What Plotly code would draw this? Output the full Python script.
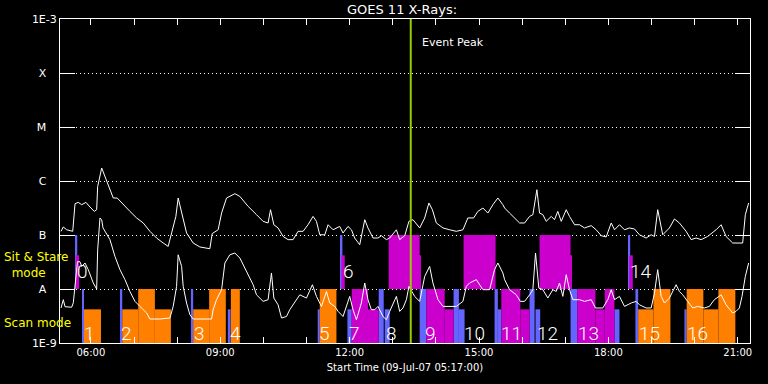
import datetime as dt
import math
import plotly.graph_objects as go

# ---------------- data ----------------
START = dt.datetime(2007, 7, 9, 5, 17)
END = START + dt.timedelta(hours=16)
EVENT_PEAK = dt.datetime(2007, 7, 9, 13, 25)

# GOES 11 long channel (1-8 A), minutes after start / flux W m^-2
long_min = [1.4, 4.6, 9.3, 17.7, 20.9, 25.4, 30.2, 36.1, 41.7, 47.7, 51, 52.4, 58, 62.6, 69.5, 74.1, 79.6, 88, 97.3, 106.6,
            115.8, 125.1, 134.4, 143.6, 150.5, 155.3, 161.2, 164.4, 169.2, 176.1, 185.3, 194.6, 208.5, 211.7, 220, 224.8, 231.7, 243.3, 250.2, 261.7,
            273.4, 282.6, 289.5, 292.9, 297.5, 303.4, 310.4, 317.3, 324.3, 331.2, 338.2, 345.1, 352.1, 356.8, 361.4, 368.4, 373, 379.9, 389.2, 393.8,
            400.7, 405.5, 410, 417, 424, 428.5, 435.5, 442.4, 447.2, 454.1, 458.7, 468, 472.6, 479.6, 485.5, 491.1, 500.4, 507.4, 513.3, 518.1,
            523.6, 532.8, 542.1, 551.4, 560.6, 567.5, 575.5, 581.4, 588.4, 595.3, 602.3, 609.2, 616.2, 618.6, 625.5, 632.5, 639.4, 646.4, 653.3, 657.9,
            663.5, 667.2, 671.8, 676.5, 683.5, 688, 692.6, 697.4, 704.3, 708.9, 715.9, 722.8, 729.8, 739.1, 746, 753, 759.9, 766.9, 771.5, 778.4,
            785.4, 792.3, 799.3, 806.2, 815.5, 822.5, 827.1, 831.6, 838.6, 847.9, 854.9, 861.8, 871.1, 878.1, 885, 892, 901.1, 912.8, 919.8, 926.7,
            935.9, 949.8, 953.5, 958.1]
long_flux = [1.17e-7, 1.41e-7, 1.25e-7, 1.17e-7, 3.80e-7, 4.02e-7, 3.64e-7, 4.02e-7, 3.30e-7, 2.74e-7,
             2.94e-7, 7.94e-7, 1.74e-6, 1.22e-6, 6.9e-7, 4.84e-7, 4.84e-7, 3.64e-7, 2.74e-7, 2.07e-7,
             1.67e-7, 1.17e-7, 8.8e-8, 7.1e-8, 6.15e-8, 1.09e-7, 2.21e-7, 4.84e-7, 2.55e-7, 1.09e-7,
             7.1e-8, 6.0e-8, 5.57e-8, 1.06e-7, 1.25e-7, 2.55e-7, 4.84e-7, 5.82e-7, 5.19e-7, 3.39e-7,
             2.38e-7, 1.79e-7, 1.67e-7, 2.94e-7, 1.55e-7, 1.35e-7, 9.4e-8, 8.2e-8, 8.2e-8, 1.17e-7,
             1.17e-7, 1.55e-7, 2.21e-7, 1.79e-7, 1.01e-7, 1.01e-7, 1.55e-7, 1.25e-7, 1.44e-7, 1.09e-7,
             1.44e-7, 1.25e-7, 8.8e-8, 6.6e-8, 1.92e-7, 1.35e-7, 8.8e-8, 8.8e-8, 9.7e-8, 8.2e-8,
             8.8e-8, 1.25e-7, 8.2e-8, 9.7e-8, 1.79e-7, 1.92e-7, 1.35e-7, 2.07e-7, 3.92e-7, 2.94e-7,
             1.67e-7, 1.35e-7, 1.25e-7, 1.17e-7, 1.25e-7, 2.07e-7, 2.07e-7, 2.74e-7, 3.16e-7, 2.55e-7,
             3.64e-7, 4.84e-7, 3.64e-7, 3.16e-7, 2.55e-7, 2.07e-7, 1.67e-7, 1.67e-7, 2.21e-7, 2.38e-7,
             6.9e-7, 2.55e-7, 2.38e-7, 1.79e-7, 2.21e-7, 1.92e-7, 2.74e-7, 1.79e-7, 2.94e-7, 2.21e-7,
             1.55e-7, 1.55e-7, 1.35e-7, 1.49e-7, 1.25e-7, 9.7e-8, 9.2e-8, 1.67e-7, 1.25e-7, 1.55e-7,
             1.25e-7, 1.35e-7, 1.29e-7, 1.01e-7, 8.8e-8, 1.01e-7, 9.4e-8, 2.94e-7, 1.01e-7, 1.35e-7,
             1.98e-7, 1.67e-7, 1.17e-7, 8.2e-8, 8.8e-8, 8.2e-8, 9.4e-8, 1.25e-7, 1.55e-7, 9.4e-8,
             7.1e-8, 7.1e-8, 2.38e-7, 3.92e-7]

# GOES 11 short channel (0.5-4 A)
short_min = [1.4, 4.6, 7, 16.3, 18.5, 20.2, 24.3, 27.8, 30.2, 34.8, 39.3, 46.3, 51, 52.4, 55.6, 58, 59.8, 69.5, 76.5, 83.4,
             90.4, 97.3, 104.3, 111.2, 120.5, 125.1, 139, 152.9, 157.5, 162.2, 164.4, 169.2, 171.4, 176.1, 180.7, 185.3, 210.9, 213.1, 217.8, 224.8,
             229.4, 236.3, 243.3, 250.2, 259.5, 268.7, 273.4, 282.6, 289.5, 294.2, 297.5, 303.4, 308.2, 315.1, 319.7, 324.3, 333.6, 342.9, 351.2, 356.8,
             363.8, 370.7, 375.3, 382.3, 386.9, 393.8, 400.7, 403.1, 407.7, 412.4, 419.3, 424, 428.5, 433.2, 437.9, 442.4, 449.4, 454.1, 458.7, 463.3,
             468, 472.6, 477.2, 481.9, 485.5, 493.4, 500.4, 507.4, 514.3, 518.9, 525.9, 532.8, 551.4, 560.6, 565.3, 569.9, 579.2, 588.4, 597.7, 604.6,
             609.2, 616.2, 618.6, 625.5, 634.8, 640.4, 646.4, 653.3, 657.9, 661.6, 666.2, 671.8, 678.7, 685.7, 690.4, 695, 699.6, 704.3, 708.9, 713.5,
             722.8, 729.8, 739.1, 745, 755.2, 762.1, 766.9, 771.5, 778.4, 785.4, 794.6, 801.6, 806.2, 815.5, 822.5, 827.1, 831.6, 836.4, 841, 847.9,
             852.5, 857.2, 861.8, 866.4, 873.3, 880.3, 887.2, 896.5, 903.5, 910.4, 919.8, 926.7, 935.9, 940.6, 945.2, 948.9, 953.5, 958.1]
short_flux = [4.45e-9, 6.34e-9, 4.7e-9, 4.6e-9, 5.57e-9, 1.0e-8, 3.2e-8, 3.2e-8, 2.62e-8, 3.03e-8,
              2.28e-8, 1.29e-8, 1.0e-8, 5.3e-8, 2.07e-7, 1.92e-7, 1.36e-7, 8.2e-8, 4.0e-8, 2.28e-8,
              1.49e-8, 9.0e-9, 5.9e-9, 4.76e-9, 3.6e-9, 2.78e-9, 2.78e-9, 2.9e-9, 4.76e-9, 1.12e-8,
              4.3e-8, 2.62e-8, 1.12e-8, 5.5e-9, 3.34e-9, 2.78e-9, 2.78e-9, 4.14e-9, 6.34e-9, 9.7e-9,
              3.03e-8, 4.3e-8, 4.64e-8, 3.75e-8, 2.12e-8, 1.2e-8, 7.8e-9, 5.9e-9, 6.34e-9, 1.98e-8,
              6.8e-9, 5.1e-9, 2.9e-9, 3.1e-9, 4.14e-9, 5.1e-9, 7.8e-9, 6.8e-9, 1.2e-8, 7.3e-9,
              4.76e-9, 9.0e-9, 5.5e-9, 4.76e-9, 3.85e-9, 3.1e-9, 6.34e-9, 7.3e-9, 4.14e-9, 2.7e-9,
              5.5e-9, 1.29e-8, 6.34e-9, 4.14e-9, 4.14e-9, 4.76e-9, 3.1e-9, 2.7e-9, 3.85e-9, 5.5e-9,
              7.3e-9, 3.85e-9, 4.45e-9, 6.34e-9, 1.12e-8, 7.3e-9, 5.9e-9, 1.71e-8, 2.62e-8, 1.29e-8,
              6.34e-9, 4.76e-9, 4.76e-9, 5.9e-9, 1.12e-8, 1.29e-8, 1.49e-8, 9.7e-9, 9.7e-9, 2.28e-8,
              3.03e-8, 1.98e-8, 1.49e-8, 9.7e-9, 7.8e-9, 5.9e-9, 5.9e-9, 7.8e-9, 9.7e-9, 4.64e-8,
              1.04e-8, 9.7e-9, 6.8e-9, 9.7e-9, 9.0e-9, 1.29e-8, 7.3e-9, 1.84e-8, 9.7e-9, 6.34e-9,
              6.34e-9, 5.9e-9, 6.34e-9, 4.45e-9, 4.45e-9, 6.34e-9, 9.7e-9, 6.34e-9, 7.3e-9, 4.76e-9,
              5.5e-9, 5.9e-9, 5.1e-9, 4.45e-9, 4.45e-9, 8.4e-9, 2.28e-8, 7.3e-9, 5.5e-9, 6.8e-9,
              9.0e-9, 1.2e-8, 9.0e-9, 7.8e-9, 5.9e-9, 4.45e-9, 4.76e-9, 4.45e-9, 4.76e-9, 6.34e-9,
              7.8e-9, 5.1e-9, 3.6e-9, 3.85e-9, 4.45e-9, 7.3e-9, 1.71e-8, 3.03e-8]

# GOES class levels and axis labels
goes_levels = [1e-9, 1e-8, 1e-7, 1e-6, 1e-5, 1e-4, 1e-3]
goes_labels = ["1E-9", "A", "B", "C", "M", "X", "1E-3"]

# observation timeline blocks: minutes after start, flux extent, kind
bar_start = [21.3, 30.6, 83.4, 182.1, 233.5, 358.6, 390.2, 399.9, 443.4, 451.8, 500.4, 547.6, 555.0, 604.6, 609.2,
             653.3, 661.6, 710.3, 771.4, 790.9, 800.6, 868.8,
             33.4, 86.6, 108.8, 132.0, 185.3, 207.5, 237.7, 361.4, 804.4, 825.7, 871.9, 895.1, 916.0,
             21.8, 391.5, 405.9, 428.5, 457.3, 500.4, 509.7, 535.2, 561.5, 614.0, 640.4, 667.2, 710.3, 719.6, 745.0,
             757.9, 792.0]
bar_end = [24.0, 33.4, 86.6, 185.3, 237.3, 361.4, 392.9, 405.9, 450.4, 458.7, 509.7, 555.0, 562.9, 609.2, 614.0,
           660.3, 668.1, 719.6, 778.4, 793.3, 804.4, 871.9,
           57.0, 108.8, 132.0, 154.3, 207.5, 230.7, 250.2, 384.6, 825.7, 849.3, 895.1, 916.0, 939.6,
           26.5, 396.2, 428.5, 443.4, 500.4, 501.8, 535.2, 547.6, 606.0, 640.4, 653.3, 710.3, 711.7, 745.0, 757.9,
           771.4, 796.9]
bar_low = [1e-8, 1e-9, 1e-9, 1e-9, 1e-9, 1e-9, 1e-8, 1e-9, 1e-9, 1e-9, 1e-9, 1e-9, 1e-9, 1e-9, 1e-9,
           1e-9, 1e-9, 1e-9, 1e-9, 1e-8, 1e-9, 1e-9,
           1e-9, 1e-9, 1e-9, 1e-9, 1e-9, 1e-9, 1e-9, 1e-9, 1e-9, 1e-9, 1e-9, 1e-9, 1e-9,
           1e-8, 1e-8, 1e-9, 1e-9, 1e-8, 1e-8, 1e-9, 1e-9, 1e-8, 1e-9, 1e-9, 1e-8, 1e-8, 1e-9, 1e-9,
           1e-9, 1e-8]
bar_high = [1e-7, 1e-8, 1e-8, 1e-8, 4.2e-9, 4.2e-9, 1e-7, 4.2e-9, 1e-8, 4.2e-9, 1e-8, 1e-8, 4.2e-9, 1e-8, 4.2e-9,
            1e-8, 4.2e-9, 1e-8, 4.2e-9, 1e-7, 1e-8, 4.2e-9,
            4.2e-9, 4.2e-9, 1e-8, 4.2e-9, 4.2e-9, 1e-8, 1e-8, 1e-8, 4.2e-9, 1e-8, 1e-8, 4.2e-9, 1e-8,
            4.2e-8, 4.2e-8, 1e-8, 4.2e-9, 1e-7, 4.2e-8, 1e-8, 4.2e-9, 1e-7, 1e-8, 4.2e-9, 1e-7, 4.2e-8, 1e-8, 4.2e-9,
            1e-8, 4.2e-8]
bar_kind = ["pointing"] * 22 + ["scan"] * 13 + ["sitstare"] * 17

# study numbers with their start (minutes) and mode
study_num = list(range(17))
study_start = [22, 32, 84, 184.5, 235, 359, 392, 400.7, 451.8, 506, 560.6, 611.6, 662.6, 719, 792.3, 803.8, 871]
study_mode = ["stare", "scan", "scan", "scan", "scan", "scan", "stare", "scan", "scan", "scan", "scan", "scan",
              "scan", "scan", "stare", "scan", "scan"]
label_level = {"scan": 1.52e-9, "stare": 2.1e-8}

# ---------------- figure ----------------
def t(m):
    return START + dt.timedelta(minutes=m)

kind_color = {"pointing": "#6464ff", "scan": "#ff8000", "sitstare": "#cc00cc"}

fig = go.Figure()
for kind in ["pointing", "scan", "sitstare"]:
    idx = [i for i, k in enumerate(bar_kind) if k == kind]
    fig.add_trace(go.Bar(
        x=[t((bar_start[i] + bar_end[i]) / 2) for i in idx],
        width=[(bar_end[i] - bar_start[i]) * 60000 for i in idx],
        base=[bar_low[i] for i in idx],
        y=[bar_high[i] - bar_low[i] for i in idx],
        marker=dict(color=kind_color[kind], line=dict(width=0)),
        showlegend=False, hoverinfo="skip",
    ))

fig.add_trace(go.Scatter(x=[t(m) for m in long_min], y=long_flux, mode="lines",
                         line=dict(color="white", width=1), showlegend=False))
fig.add_trace(go.Scatter(x=[t(m) for m in short_min], y=short_flux, mode="lines",
                         line=dict(color="white", width=1), showlegend=False))

fig.add_shape(type="line", xref="x", yref="paper", x0=EVENT_PEAK, x1=EVENT_PEAK, y0=0, y1=1,
              line=dict(color="#99cc00", width=2), layer="above")
fig.add_annotation(x=EVENT_PEAK, xref="x", y=0.928, yref="paper", text="Event Peak", showarrow=False,
                   xanchor="left", yanchor="middle", xshift=9,
                   font=dict(family="DejaVu Sans", size=11, color="white"))

for n, s, md in zip(study_num, study_start, study_mode):
    fig.add_annotation(x=t(s), xref="x", y=math.log10(label_level[md]), yref="y", text=str(n),
                       showarrow=False, xanchor="left", yanchor="middle", xshift=-1,
                       font=dict(family="Roboto", weight=300, size=19, color="white"))

fig.add_annotation(x=-0.084, xref="paper", y=0.2417, yref="paper",
                   text="Sit & Stare<br>\u00a0\u00a0mode", showarrow=False, xanchor="left", yanchor="middle",
                   align="left", font=dict(family="DejaVu Sans", size=12, color="#ffff00"))
fig.add_annotation(x=-0.084, xref="paper", y=0.0627, yref="paper",
                   text="Scan mode", showarrow=False, xanchor="left", yanchor="middle",
                   align="left", font=dict(family="DejaVu Sans", size=12, color="#ffff00"))

ticktext = [lab if lab.startswith("1E") else lab + "\u00a0" * 3 for lab in goes_labels]

fig.update_layout(
    template="none",
    width=768, height=384,
    margin=dict(l=60, r=18, t=19, b=41, autoexpand=False),
    paper_bgcolor="black", plot_bgcolor="black",
    barmode="overlay",
    title=dict(text="GOES 11 X-Rays:", x=402 / 768, xanchor="center", y=1 - 9.5 / 384, yanchor="middle",
               font=dict(family="DejaVu Sans", size=13, color="white")),
    font=dict(family="DejaVu Sans", color="white"),
    xaxis=dict(type="date", range=[START, END], showline=True, linecolor="white", linewidth=1,
               mirror="ticks", ticks="inside", ticklen=6, tickcolor="white", tickwidth=1,
               tick0="2007-07-09 00:00", dtick=3 * 3600000, tickformat="%H:%M", automargin=False,
               tickfont=dict(size=10, color="white"), showgrid=False, zeroline=False,
               minor=dict(ticks="inside", ticklen=6, tickcolor="white", dtick=3600000, showgrid=False),
               title=dict(text="Start Time (09-Jul-07 05:17:00)", font=dict(size=10, color="white"), standoff=6)),
    yaxis=dict(type="log", range=[-9, -3], showline=True, linecolor="white", linewidth=1,
               mirror="ticks", ticks="inside", ticklen=15, tickcolor="white", tickwidth=1, automargin=False,
               tickvals=goes_levels, ticktext=ticktext, tickfont=dict(size=11, color="white"),
               showgrid=True, gridcolor="white", gridwidth=1, griddash="1px,3px", zeroline=False),
)

fig.write_html("out.html", config={"displayModeBar": False},
               post_script="document.body.style.margin='0px';document.body.style.background='black';")
